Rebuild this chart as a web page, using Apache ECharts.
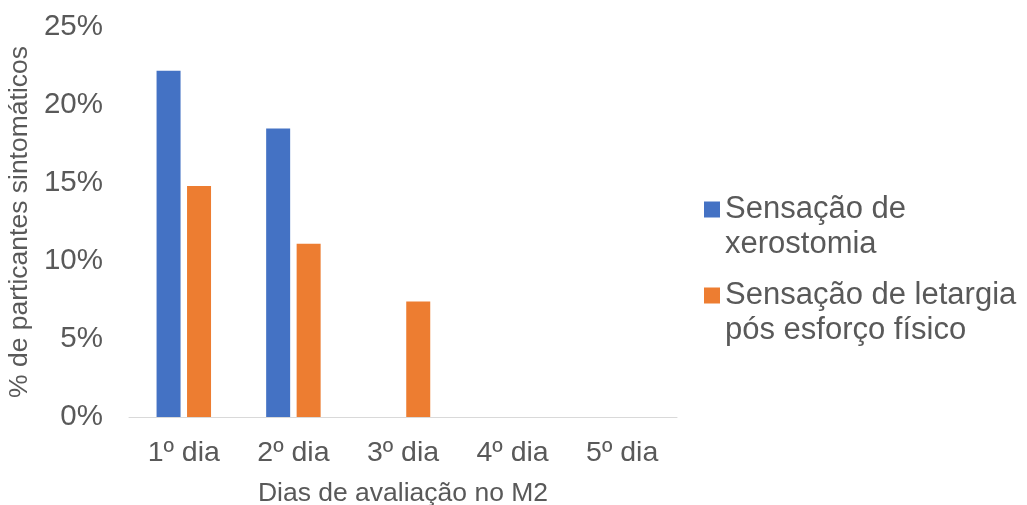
<!DOCTYPE html>
<html>
<head>
<meta charset="utf-8">
<script src="https://cdn.jsdelivr.net/npm/echarts@6/dist/echarts.min.js"></script>
<style>
html,body{margin:0;padding:0;background:#fff;}
#c{width:1027px;height:505px;}
</style>
</head>
<body>
<div id="c"></div>
<script>
const categories = ['1º dia', '2º dia', '3º dia', '4º dia', '5º dia'];
const xerostomia = [22.2, 18.5, 0, 0, 0];
const letargia = [14.8, 11.1, 7.4, 0, 0];
const yTicks = [0, 5, 10, 15, 20, 25];
const seriesNames = ['Sensação de xerostomia', 'Sensação de letargia pós esforço físico'];
const legendLabels = ['Sensação de\nxerostomia', 'Sensação de letargia\npós esforço físico'];

const FONT = '"Liberation Sans", Arial, sans-serif';
const TXT = '#595959';
const chart = echarts.init(document.getElementById('c'), null, {renderer: 'canvas'});

function legendFor(i, top) {
  return {
    show: true,
    data: [seriesNames[i]],
    orient: 'vertical',
    left: 704,
    top: top,
    padding: 0,
    icon: 'rect',
    itemWidth: 16,
    itemHeight: 16,
    itemGap: 0,
    // leading blank line keeps the marker level with the first text line
    formatter: function (n) { return '\n' + legendLabels[seriesNames.indexOf(n)]; },
    textStyle: {fontFamily: FONT, fontSize: 31, color: TXT, lineHeight: 35}
  };
}

chart.setOption({
  animation: false,
  backgroundColor: '#fff',
  textStyle: {fontFamily: FONT},
  grid: {left: 129, top: 27, width: 548, height: 390, containLabel: false, outerBoundsMode: 'none'},
  legend: [legendFor(0, 157), legendFor(1, 243)],
  xAxis: {
    type: 'category',
    data: categories,
    name: 'Dias de avaliação no M2',
    nameLocation: 'middle',
    nameGap: 63,
    nameTextStyle: {fontFamily: FONT, fontSize: 26.5, color: TXT},
    axisLine: {show: true, lineStyle: {color: '#D9D9D9', width: 1}},
    axisTick: {show: false},
    axisLabel: {fontFamily: FONT, fontSize: 28.5, color: TXT, margin: 22},
    splitLine: {show: false}
  },
  yAxis: {
    type: 'value',
    min: yTicks[0],
    max: yTicks[yTicks.length - 1],
    interval: yTicks[1] - yTicks[0],
    name: '% de particantes sintomáticos',
    nameLocation: 'middle',
    nameGap: 93,
    nameTextStyle: {fontFamily: FONT, fontSize: 26.5, color: TXT},
    axisLine: {show: false},
    axisTick: {show: false},
    splitLine: {show: false},
    axisLabel: {fontFamily: FONT, fontSize: 29.5, color: TXT, margin: 26, formatter: v => v + '%'}
  },
  series: [
    {
      name: seriesNames[0], type: 'bar', data: xerostomia,
      itemStyle: {color: '#4472C4'}, barWidth: 24, barGap: '27%'
    },
    {
      name: seriesNames[1], type: 'bar', data: letargia,
      itemStyle: {color: '#ED7D31'}, barWidth: 24, barGap: '27%'
    }
  ]
});
</script>
</body>
</html>
